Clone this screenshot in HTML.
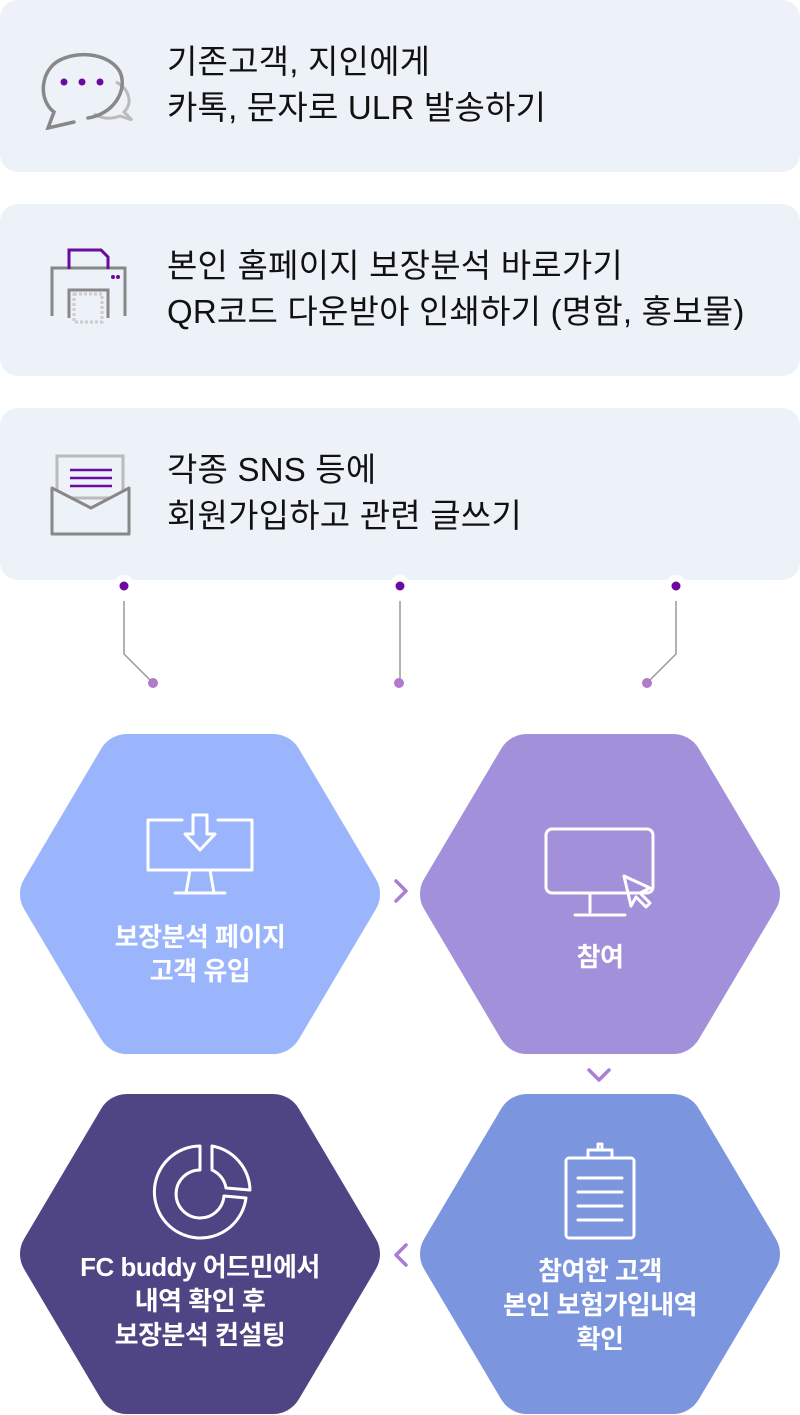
<!DOCTYPE html>
<html><head><meta charset="utf-8"><style>
body{margin:0;width:800px;height:1415px;background:#fff;position:relative;overflow:hidden;font-family:"Liberation Sans","Noto Sans CJK KR",sans-serif}
.box{position:absolute;left:0;width:800px;height:172px;background:#edf1f8;border-radius:18px}
.box .t{position:absolute;left:167px;top:39px;font-size:33px;line-height:46px;color:#111;letter-spacing:0.2px;white-space:nowrap}
.box svg{position:absolute;left:36px;top:40px}
.hl{position:absolute;color:#fff;font-weight:bold;font-size:26px;line-height:34px;text-align:center;width:360px;letter-spacing:-0.5px}
</style></head><body>
<div class="box" style="top:0"><svg width="110" height="90" viewBox="0 0 110 90">
<path d="M80 42 C92 48 98 62 88 72 L96 80 L84 76 C74 80 64 78 58 74" fill="none" stroke="#bbb" stroke-width="3"/>
<path d="M38 82 L12 88 L18 72 C2 60 4 30 24 20 C44 10 74 14 84 32 C92 50 78 74 52 78" fill="none" stroke="#888" stroke-width="3.5" stroke-linecap="round"/>
<circle cx="28" cy="42" r="3.5" fill="#6a0aa0"/><circle cx="46" cy="42" r="3.5" fill="#6a0aa0"/><circle cx="64" cy="42" r="3.5" fill="#6a0aa0"/></svg>
<div class="t">기존고객, 지인에게<br>카톡, 문자로 ULR 발송하기</div></div>
<div class="box" style="top:204px"><svg width="110" height="90" viewBox="0 0 110 90">
<path d="M33 74 V46 H72 V74" fill="none" stroke="#888" stroke-width="3"/>
<path d="M16 72 V24 H89 V72" fill="none" stroke="#888" stroke-width="3"/>
<path d="M33 25 V6 H65 L72 13 V25" fill="none" stroke="#6a0aa0" stroke-width="3"/>
<circle cx="77" cy="33" r="2" fill="#6a0aa0"/><circle cx="82" cy="33" r="2" fill="#6a0aa0"/>
<rect x="38" y="50" width="28" height="28" fill="none" stroke="#ccc" stroke-width="3" stroke-dasharray="3 2"/></svg>
<div class="t">본인 홈페이지 보장분석 바로가기<br>QR코드 다운받아 인쇄하기 (명함, 홍보물)</div></div>
<div class="box" style="top:408px"><svg width="110" height="90" viewBox="0 0 110 90">
<rect x="21" y="8" width="66" height="42" fill="none" stroke="#bbb" stroke-width="3"/>
<path d="M34 22H76M34 30H76M34 38H76" stroke="#6a0aa0" stroke-width="2.5"/>
<path d="M16 40 V86 H93 V40 L55 60 Z" fill="#edf1f8" stroke="#888" stroke-width="3" stroke-linejoin="round"/></svg>
<div class="t">각종 SNS 등에<br>회원가입하고 관련 글쓰기</div></div>
<svg style="position:absolute;left:0;top:560px" width="800" height="180">
<circle cx="124" cy="25" r="10" fill="#fff"/><circle cx="400" cy="25" r="10" fill="#fff"/><circle cx="676" cy="25" r="10" fill="#fff"/>
<circle cx="124" cy="26" r="4.5" fill="#6a0aa0"/><circle cx="400" cy="26" r="4.5" fill="#6a0aa0"/><circle cx="676" cy="26" r="4.5" fill="#6a0aa0"/>
<path d="M124 41V94L152 122M400 41V122M676 41V94L648 122" fill="none" stroke="#999" stroke-width="1.5"/>
<circle cx="153" cy="123" r="5" fill="#b07acd"/><circle cx="399" cy="123" r="5" fill="#b07acd"/><circle cx="647" cy="123" r="5" fill="#b07acd"/>
</svg>
<svg style="position:absolute;left:0;top:0" width="800" height="1415">
<g stroke-linejoin="round" stroke-width="60">
<path d="M127 764H273L350 894L273 1024H127L50 894Z" fill="#9bb5fd" stroke="#9bb5fd"/>
<path d="M527 764H673L750 894L673 1024H527L450 894Z" fill="#a290da" stroke="#a290da"/>
<path d="M127 1124H273L350 1254L273 1384H127L50 1254Z" fill="#4f4585" stroke="#4f4585"/>
<path d="M527 1124H673L750 1254L673 1384H527L450 1254Z" fill="#7b95df" stroke="#7b95df"/>
</g>
<g fill="none" stroke="#a97fd3" stroke-width="3.5" stroke-linecap="round" stroke-linejoin="round">
<path d="M396 881L406 891L396 901"/><path d="M589 1070L599 1080L609 1070"/><path d="M406 1245L396 1255L406 1265"/></g>
<g fill="none" stroke="#fff" stroke-width="3" stroke-linejoin="round" stroke-linecap="round">
<path d="M182 820H148V870H252V820H218"/><path d="M190 870L186 893H214L210 870M175 893H225"/>
<path d="M193 815V834H185L200 850L215 834H207V815Z"/>
<rect x="546" y="829" width="107" height="64" rx="6"/><path d="M590 893V912M575 915H625"/>
<path d="M624 876L650 888L640 893L650 903L646 907L636 897L631 906Z"/>
<path d="M200 1146A46 46 0 1 0 246 1198L224 1196A24 24 0 1 1 200 1170Z"/>
<path d="M212 1146A46 46 0 0 1 250 1190L226 1188A24 24 0 0 0 212 1170Z"/>
<rect x="566" y="1158" width="68" height="80" rx="3"/><path d="M588 1158V1150H612V1158M598 1150V1144H602V1150"/>
<path d="M578 1178H622M578 1192H622M578 1206H622M578 1220H622"/>
</g></svg>
<div class="hl" style="left:20px;top:920px">보장분석 페이지<br>고객 유입</div>
<div class="hl" style="left:420px;top:940px">참여</div>
<div class="hl" style="left:20px;top:1250px">FC buddy 어드민에서<br>내역 확인 후<br>보장분석 컨설팅</div>
<div class="hl" style="left:420px;top:1254px">참여한 고객<br>본인 보험가입내역<br>확인</div>
</body></html>
